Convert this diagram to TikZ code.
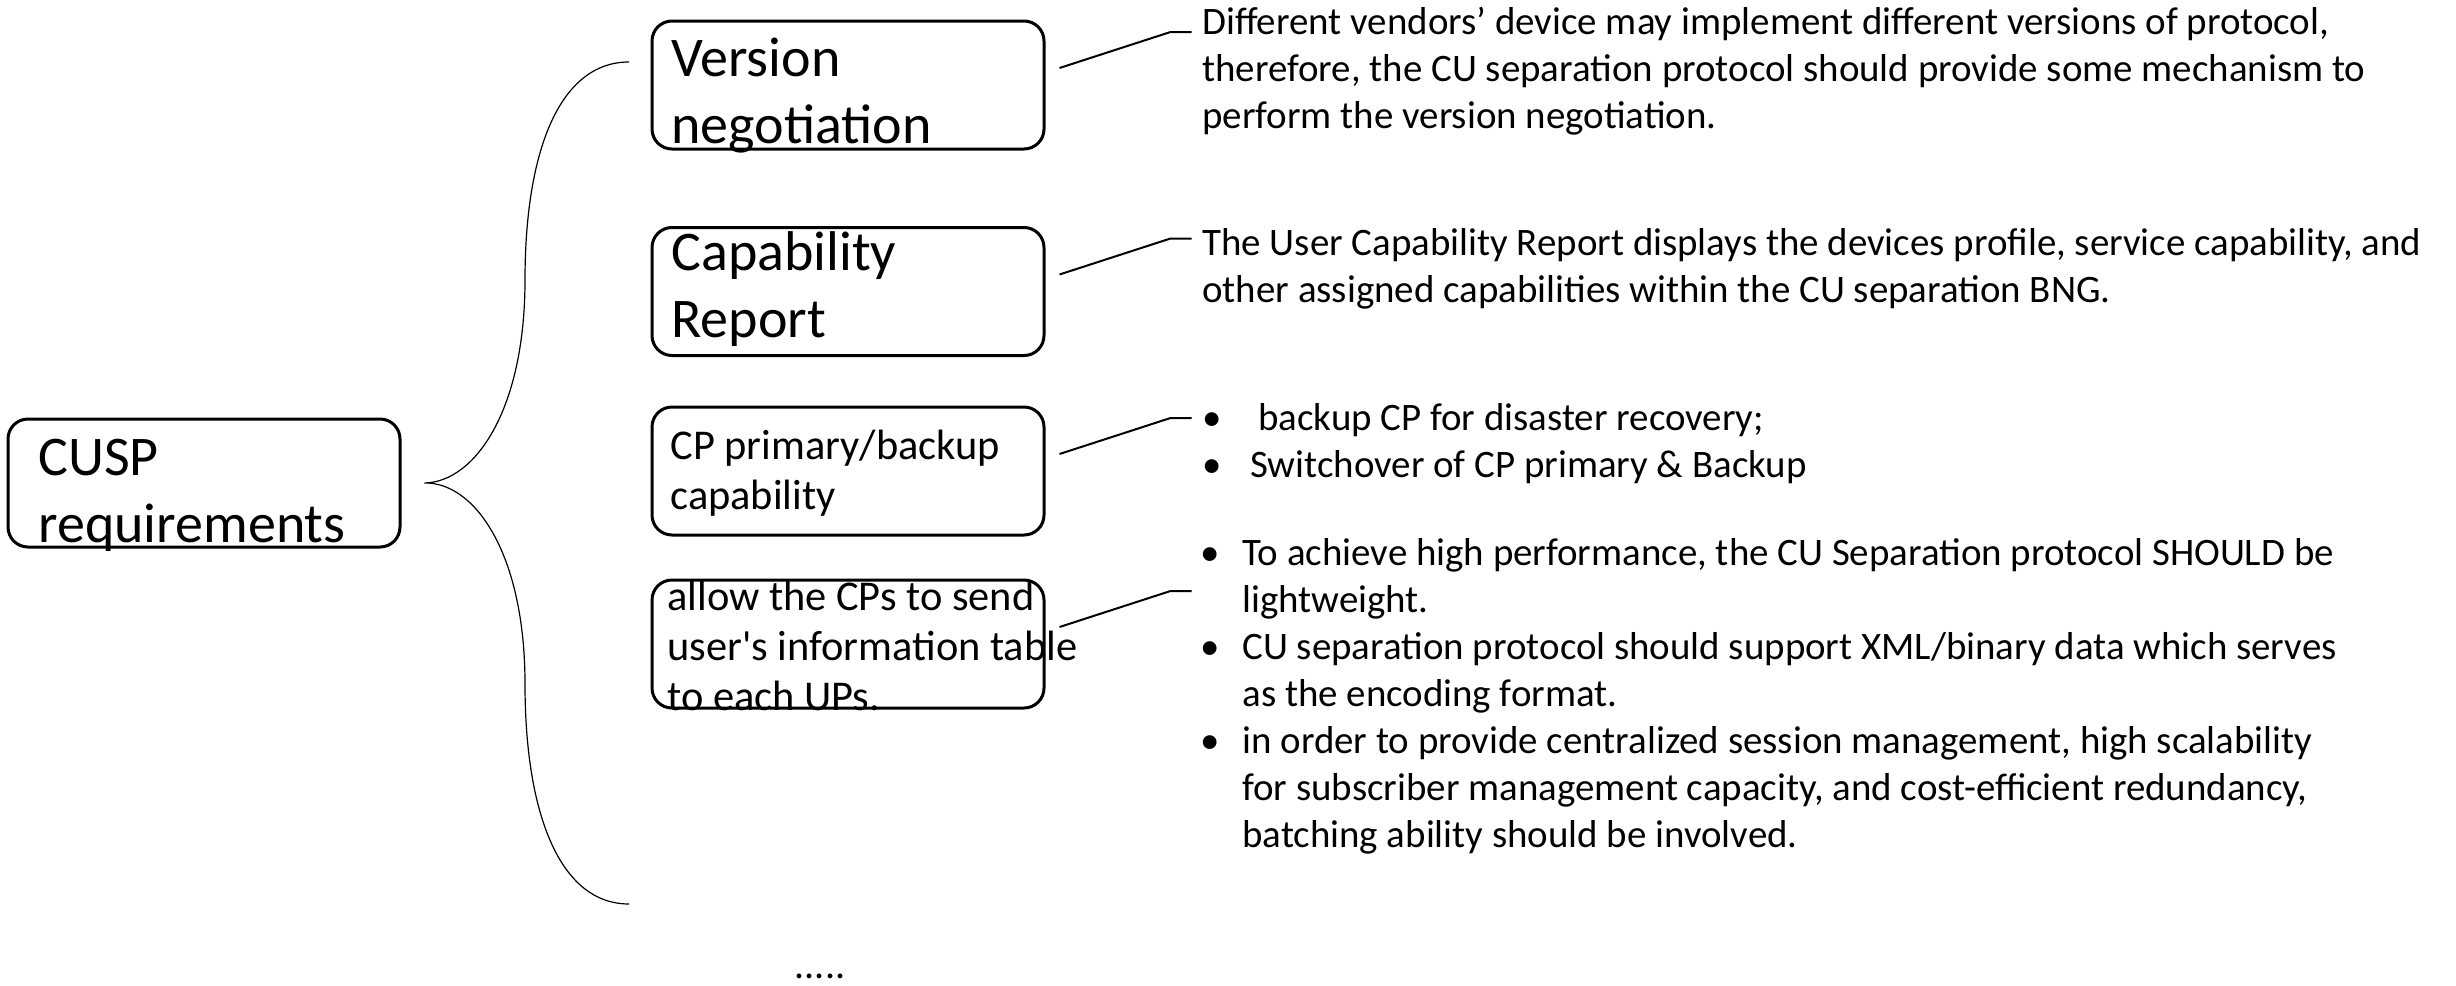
\documentclass[tikz,border=0pt]{standalone}
\usepackage{fontspec}
\setmainfont{Carlito}
\usetikzlibrary{calc,positioning}
\newcommand{\bul}[1]{\makebox[#1][l]{•}}
\begin{document}
\begin{tikzpicture}[x=0.5pt,y=-0.5pt,
  reqbox/.style={draw,line width=1.5pt,rounded corners=10pt,minimum width=196pt,minimum height=64pt,inner sep=0pt},
  boxtext/.style={anchor=base west,inner sep=0pt,align=left},
  bigfont/.style={font=\fontsize{28}{33.5}\selectfont},
  midfont/.style={font=\fontsize{21.2}{25}\selectfont},
  desc/.style={anchor=base west,inner sep=0pt,align=left,font=\fontsize{19.45}{23.5}\selectfont},
  leader/.style={line width=1pt},
  brace/.style={line width=0.6pt}]
\useasboundingbox (0,0) rectangle (2456,985);
% boxes
\node[reqbox] (cusp) at (204,483) {};
\node[reqbox] (ver) at (848,85) {};
\node[reqbox] (cap) at (848,291.5) {};
\node[reqbox] (cp) at (848,471) {};
\node[reqbox] (ups) at (848,644) {};
% labels of the boxes (placed on the baseline of their last line)
\node[boxtext,bigfont] (cusptxt) at (38,542) {CUSP\\requirements};
\node[boxtext,bigfont] (vertxt) at (671,143) {Version\\negotiation};
\node[boxtext,bigfont] (captxt) at (671,337) {Capability\\Report};
\node[boxtext,midfont] (cptxt) at (670,509) {CP primary/backup\\capability};
\node[boxtext,midfont] (upstxt) at (667,710) {allow the CPs to send\\user\textquotesingle s information table\\to each UPs.};
% the brace
\coordinate (tip) at ($(cusp.east)+(23,0)$);
\coordinate (btop) at (629,62);
\coordinate (bbot) at (629,904);
\draw[brace] (btop) .. controls (560,62) and (525,150) .. (525,280)
  .. controls (525,410) and (475,482) .. (tip)
  .. controls (475,482) and (525,554) .. (525,684)
  .. controls (525,814) and (560,904) .. (bbot);
% leaders
\foreach \b in {ver,cap,cp,ups}
  \draw[leader] (\b.east) ++(14,-17) -- ++(111,-36) -- ++(21,0);
% descriptions
\node[desc] (verdesc) at (1202,128) {Different vendors’ device may implement different versions of protocol,\\therefore, the CU separation protocol should provide some mechanism to\\perform the version negotiation.};
\node[desc] (capdesc) at (1202,302) {The User Capability Report displays the devices profile, service capability, and\\other assigned capabilities within the CU separation BNG.};
\node[desc] (cpdesc) at (1202,477) {\bul{28pt}backup CP for disaster recovery;\\\bul{24pt}Switchover of CP primary \& Backup};
\node[desc] (upsdesc) at (1200,847) {\bul{21pt}To achieve high performance, the CU Separation protocol SHOULD be\\\hspace*{21pt}lightweight.\\\bul{21pt}CU separation protocol should support XML/binary data which serves\\\hspace*{21pt}as the encoding format.\\\bul{21pt}in order to provide centralized session management, high scalability\\\hspace*{21pt}for subscriber management capacity, and cost-efficient redundancy,\\\hspace*{21pt}batching ability should be involved.};
\node[anchor=base,inner sep=0pt,font=\fontsize{20}{24}\selectfont] (more) at (820,978) {.....};
\end{tikzpicture}
\end{document}
